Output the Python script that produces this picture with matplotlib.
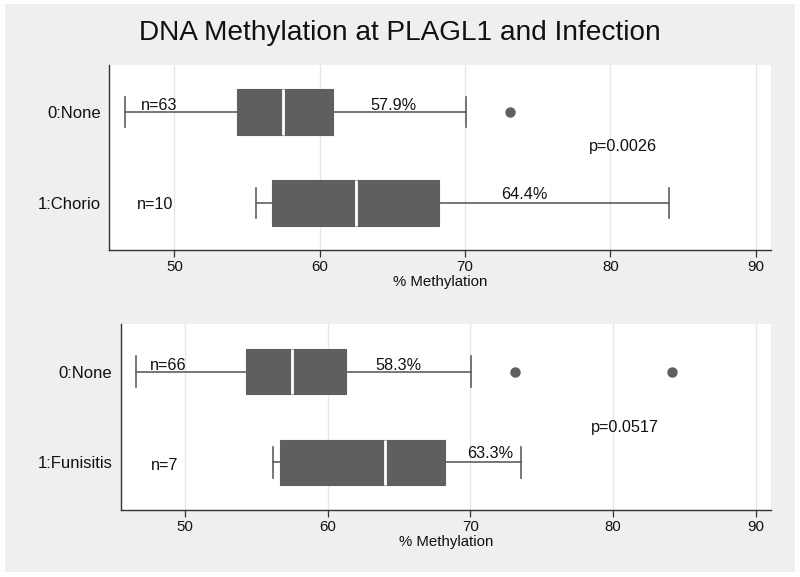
import matplotlib
matplotlib.use("Agg")
import matplotlib.pyplot as plt
from matplotlib.patches import Rectangle

plt.rcParams['font.family'] = ['Liberation Sans', 'DejaVu Sans']

title = "DNA Methylation at PLAGL1 and Infection"
xlabel = "% Methylation"
xticks = [50, 60, 70, 80, 90]

# Panel 1: chorioamnionitis
p1_labels = ["0:None", "1:Chorio"]
p1_whislo = [46.6, 55.6]
p1_q1 = [54.3, 56.7]
p1_med = [57.5, 62.5]
p1_q3 = [60.9, 68.2]
p1_whishi = [70.05, 84.0]
p1_fliers = [[73.1], []]
p1_n = ["n=63", "n=10"]
p1_mean = ["57.9%", "64.4%"]
p1_p = "p=0.0026"

# Panel 2: funisitis
p2_labels = ["0:None", "1:Funisitis"]
p2_whislo = [46.55, 56.15]
p2_q1 = [54.3, 56.65]
p2_med = [57.5, 64.0]
p2_q3 = [61.3, 68.2]
p2_whishi = [70.05, 73.55]
p2_fliers = [[73.1, 84.1], []]
p2_n = ["n=66", "n=7"]
p2_mean = ["58.3%", "63.3%"]
p2_p = "p=0.0517"

BOX = "#5f5f5f"
BG = "#efefef"

fig = plt.figure(figsize=(8, 5.77), dpi=100, facecolor="white")
fig.patches.append(Rectangle((5/800, 5/577), 790/800, 568/577, transform=fig.transFigure,
                             facecolor=BG, edgecolor="none", zorder=-10))
fig.text(0.5, 1 - 33/577, title, ha="center", va="center", fontsize=20.2, color="#111111")


def panel(rect, labels, whislo, q1, med, q3, whishi, fliers, ns, means, ptxt,
          ylim_pad, ann):
    ax = fig.add_axes(rect)
    ax.set_facecolor("white")
    stats = []
    for i in range(len(labels)):
        stats.append(dict(whislo=whislo[i], q1=q1[i], med=med[i], q3=q3[i],
                          whishi=whishi[i], fliers=fliers[i], label=labels[i]))
    ax.bxp(stats, positions=[0, 1], vert=False, widths=0.5, patch_artist=True,
           showfliers=True,
           boxprops=dict(facecolor=BOX, edgecolor=BOX, linewidth=0.8),
           medianprops=dict(color="white", linewidth=2.0),
           whiskerprops=dict(color=BOX, linewidth=1.2),
           capprops=dict(color=BOX, linewidth=1.2),
           capwidths=0.34,
           flierprops=dict(marker="o", markerfacecolor=BOX, markeredgecolor=BOX,
                           markersize=6.5))
    ax.set_xlim(45.5, 91.05)
    ax.set_ylim(1 + ylim_pad, -ylim_pad)
    ax.set_xticks(xticks)
    ax.set_xticklabels([str(t) for t in xticks], fontsize=10.8, color="#111111")
    ax.set_yticks([0, 1])
    ax.set_yticklabels(labels, fontsize=12, color="#111111")
    ax.tick_params(axis="y", length=0, pad=6)
    ax.tick_params(axis="x", length=5, width=0.9, color="#333333", pad=2)
    ax.grid(axis="x", color="#e6e6e6", linewidth=1.0)
    ax.set_axisbelow(True)
    for s in ["top", "right"]:
        ax.spines[s].set_visible(False)
    for s in ["left", "bottom"]:
        ax.spines[s].set_color("#333333")
        ax.spines[s].set_linewidth(1.0)
    ax.set_xlabel(xlabel, fontsize=10.8, color="#111111", labelpad=1)
    (nx0, ny0, va0), (mx0, my0), (nx1, ny1), (mx1, my1), (px, py) = ann
    fs = 11.7
    ax.text(nx0, ny0, ns[0], ha="center", va="baseline", fontsize=fs, color="#111111")
    ax.text(mx0, my0, means[0], ha="center", va="baseline", fontsize=fs, color="#111111")
    ax.text(nx1, ny1, ns[1], ha="center", va="center", fontsize=fs, color="#111111")
    ax.text(mx1, my1, means[1], ha="center", va="baseline", fontsize=fs, color="#111111")
    ax.text(px, py, ptxt, ha="center", va="center", fontsize=fs, color="#111111")
    return ax


panel([109/800, 1 - 250/577, 662/800, 185/577], p1_labels, p1_whislo, p1_q1, p1_med,
      p1_q3, p1_whishi, p1_fliers, p1_n, p1_mean, p1_p, 0.516,
      [(48.97, -0.02, "b"), (65.05, -0.02), (48.7, 1.02), (74.05, 0.96), (80.86, 0.374)])

panel([120.7/800, 1 - 510/577, 650/800, 186/577], p2_labels, p2_whislo, p2_q1, p2_med,
      p2_q3, p2_whishi, p2_fliers, p2_n, p2_mean, p2_p, 0.522,
      [(48.84, -0.02, "b"), (64.97, -0.02), (48.6, 1.03), (71.4, 0.95), (80.84, 0.613)])

fig.savefig("out.png", dpi=100, facecolor="white")
